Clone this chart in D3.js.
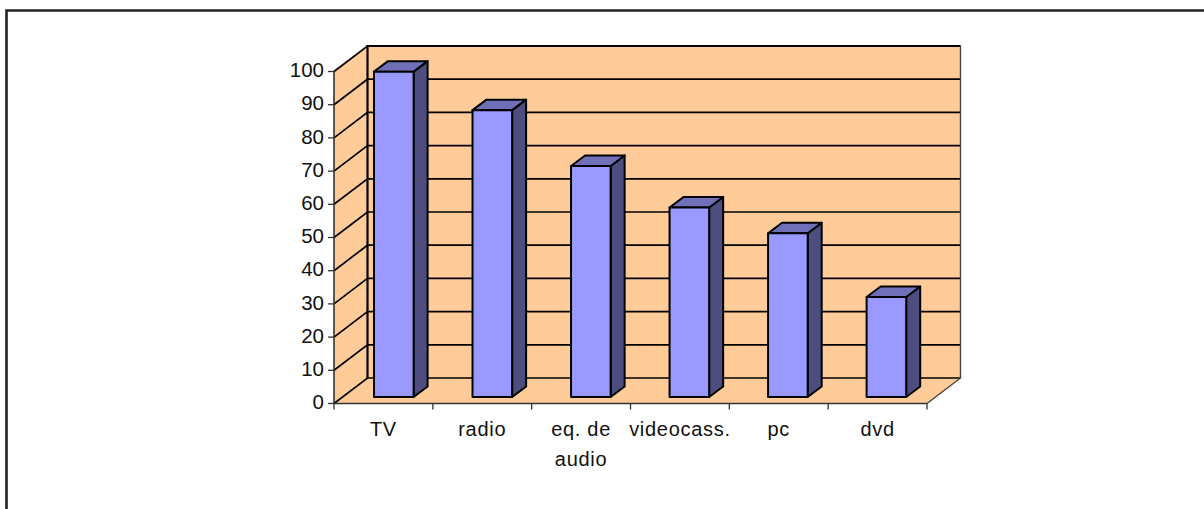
<!DOCTYPE html>
<html><head><meta charset="utf-8">
<style>html,body{margin:0;padding:0;background:#fff;overflow:hidden}svg{display:block}text{font-family:"Liberation Sans",Arial,sans-serif;fill:#111}</style>
<script src="https://cdn.jsdelivr.net/npm/d3@7"></script></head>
<body><script>
const categories=["TV","radio","eq. de audio","videocass.","pc","dvd"];
const labelLines=[["TV"],["radio"],["eq. de","audio"],["videocass."],["pc"],["dvd"]];
const values=[98,86.4,69.6,57.1,49.3,30.1];
const yTicks=[0,10,20,30,40,50,60,70,80,90,100];

const W=1204,H=509;
const svg=d3.select("body").append("svg").attr("width",W).attr("height",H);
svg.append("path").attr("d",`M6.5,${H+5}V10.5H${W+5}`).attr("fill","none").attr("stroke","#222").attr("stroke-width",2.6);

const y=d3.scaleLinear().domain([0,100]).range([403.5,71.5]);
const x=d3.scaleBand().domain(categories).range([334,927]);
const barX=d3.scalePoint().domain(categories).range([374,866.6]);
const dx=33.5,dy=-25.5;
const bdx=14,bdy=-10.5;
const wall="#FFCC99",line="#000";
const x0=334,x1=927;
// floor, side wall, back wall
svg.append("path").attr("d",`M${x0},${y(0)}L${x0+dx},${y(0)+dy}H${x1+dx}L${x1},${y(0)}Z`).attr("fill",wall);
svg.append("path").attr("d",`M${x0},${y(0)}L${x0+dx},${y(0)+dy}V${y(100)+dy}L${x0},${y(100)}Z`).attr("fill",wall);
svg.append("rect").attr("x",x0+dx).attr("y",y(100)+dy).attr("width",x1-x0).attr("height",y(0)-y(100)).attr("fill",wall);
// gridlines
svg.append("g").selectAll("path").data(yTicks).join("path")
 .attr("d",d=>`M${x0},${y(d)}L${x0+dx},${y(d)+dy}H${x1+dx}`)
 .attr("fill","none").attr("stroke",line).attr("stroke-width",1.7);
// wall edges
svg.append("path").attr("d",`M${x0+dx},${y(0)+dy}V${y(100)+dy}H${x1+dx}`).attr("fill","none").attr("stroke",line).attr("stroke-width",2.2);
svg.append("path").attr("d",`M${x1+dx},${y(100)+dy}V${y(0)+dy}L${x1},${y(0)}`).attr("fill","none").attr("stroke","#444").attr("stroke-width",1.4);
// axes
svg.append("path").attr("d",`M${x0},${y(100)}V${y(0)}H${x1}`).attr("fill","none").attr("stroke","#333").attr("stroke-width",1.6);
svg.append("g").selectAll("path").data(yTicks).join("path")
 .attr("d",d=>`M${x0-6},${y(d)}H${x0}`).attr("stroke","#333").attr("stroke-width",1.3);
svg.append("g").selectAll("path").data(d3.range(categories.length+1)).join("path")
 .attr("d",i=>`M${x0+i*x.step()},${y(0)}v6`).attr("stroke","#333").attr("stroke-width",1.3);
svg.append("g").selectAll("text").data(yTicks).join("text")
 .attr("x",x0-10).attr("y",d=>y(d)+5.6).attr("text-anchor","end").attr("font-size",20.5).text(d=>d);
// bars
const bw=39.6, baseShift=-6.5;
const g=svg.append("g").selectAll("g").data(categories).join("g");
const bx=c=>barX(c);
const barTop=(c,i)=>y(values[i])+baseShift;
const base=y(0)+baseShift;
function st(s){return s.attr("stroke","#000").attr("stroke-width",2).attr("stroke-linejoin","round");}
st(g.append("path").attr("d",(c,i)=>`M${bx(c)+bw},${barTop(c,i)}l${bdx},${bdy}V${base+bdy}L${bx(c)+bw},${base}Z`).attr("fill","#4D4D80"));
st(g.append("path").attr("d",(c,i)=>`M${bx(c)},${barTop(c,i)}l${bdx},${bdy}h${bw}l${-bdx},${-bdy}Z`).attr("fill","#7070B8"));
st(g.append("rect").attr("x",c=>bx(c)).attr("y",(c,i)=>barTop(c,i)).attr("width",bw).attr("height",(c,i)=>base-barTop(c,i)).attr("fill","#9999FF"));
// category labels
const lab=svg.append("g").selectAll("text").data(categories).join("text")
 .attr("text-anchor","middle").attr("font-size",20).attr("letter-spacing",0.7);
lab.each(function(c,i){
  d3.select(this).selectAll("tspan").data(labelLines[i]).join("tspan")
   .attr("x",x(c)+x.step()/2).attr("y",(d,j)=>436+j*30).text(d=>d);
});
</script></body></html>
